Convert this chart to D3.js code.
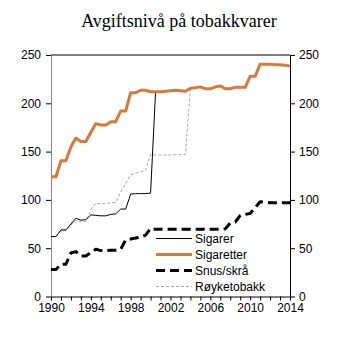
<!DOCTYPE html>
<html><head><meta charset="utf-8">
<script src="https://cdn.jsdelivr.net/npm/d3@7"></script>
<style>body{margin:0;background:#fff}svg{display:block}</style>
</head><body>
<svg id="c" width="341" height="341"></svg>
<script>
const periods = [1990,1990.5,1991,1991.5,1992,1992.5,1993,1993.5,1994,1994.5,1995,1995.5,1996,1996.5,1997,1997.5,1998,1998.5,1999,1999.5,2000,2000.5,2001,2001.5,2002,2002.5,2003,2003.5,2004,2004.5,2005,2005.5,2006,2006.5,2007,2007.5,2008,2008.5,2009,2009.5,2010,2010.5,2011,2011.5,2012,2012.5,2013,2013.5,2014];
const sigarer = [62,62,69,69,75,81,79,79.5,84.5,84,83.5,83.5,85,85.5,90.5,90.5,106,106.5,106.5,106.5,107,212,212,212.5,213,213.5,213,212.5,215.5,216,217,215,215,217,218,215,215,216.5,216.5,216.5,228,228,240.5,240.5,240.5,240,240,239.5,238.5];
const sigaretter = [124,124,140.5,140.5,155,164,160.5,160.5,170,179,177.5,177.5,181,181,192,192,211,211,213.5,213.5,212,212,212,212.5,213,213.5,213,212.5,215.5,216,217,215,215,217,218,215,215,216.5,216.5,216.5,228,228,240.5,240.5,240.5,240,240,239.5,238.5];
const snus = [28,28,33.5,33.5,45,46.5,42,42,45.5,49,47.5,47.5,48,48,49,58.5,59.5,60.5,61.5,63.5,70.5,69.5,69.5,69.5,69.5,69.5,69.5,69.5,69.5,69.5,69.5,69.5,69.5,69.5,69.5,70,76,77,84,85,86,92,98,97.5,97,97,97,97,97];
const royketobakk = [62,62,68,68,74,79,77.5,77.5,90,96.5,96,96,97,97.5,108,117,126,127.5,129,130.5,147,146.5,146.5,146.5,146.5,147,147,147,215.5,216,217,215,215,217,218,215,215,216.5,216.5,216.5,228,228,240.5,240.5,240.5,240,240,239.5,238.5];
const seriesNames = ["Sigarer","Sigaretter","Snus/skrå","Røyketobakk"];
const yTicks = [0,50,100,150,200,250];
const xTickYears = [1990,1991,1992,1993,1994,1995,1996,1997,1998,1999,2000,2001,2002,2003,2004,2005,2006,2007,2008,2009,2010,2011,2012,2013,2014];
const xTickLabels = [1990,1994,1998,2002,2006,2010,2014];
const title = "Avgiftsnivå på tobakkvarer";

const svg = d3.select("#c");
const L = 51, R = 290, T = 55, B = 296.5;
const x = d3.scaleLinear().domain([1990, 2014]).range([L, R]);
const y = d3.scaleLinear().domain([0, 250]).range([B, T]);
const FONT = "'Liberation Sans', Arial, sans-serif";

svg.append("text").attr("x", 179).attr("y", 27).attr("text-anchor", "middle")
  .attr("font-family", "'Liberation Serif', 'Times New Roman', serif").attr("font-size", 18)
  .attr("fill", "#000").text(title);

// top border
svg.append("line").attr("x1", L).attr("x2", R).attr("y1", T).attr("y2", T)
  .attr("stroke", "#000").attr("stroke-width", 1);

const gl = svg.append("g").attr("transform", `translate(${L},0)`)
  .call(d3.axisLeft(y).tickValues(yTicks).tickSize(5).tickPadding(5).tickSizeOuter(0));
gl.select(".domain").attr("stroke", "#888");
const gr = svg.append("g").attr("transform", `translate(${R},0)`)
  .call(d3.axisRight(y).tickValues(yTicks).tickSize(5).tickPadding(4).tickSizeOuter(0));
const gb = svg.append("g").attr("transform", `translate(0,${B})`)
  .call(d3.axisBottom(x).tickValues(xTickYears).tickSize(4).tickPadding(3).tickSizeOuter(0)
    .tickFormat(d => xTickLabels.includes(d) ? String(d) : ""));
[gl, gr, gb].forEach(g => {
  g.selectAll("text").attr("font-family", FONT).attr("font-size", 12).attr("fill", "#000");
  g.selectAll(".tick line").attr("stroke", "#000");
});
gr.select(".domain").attr("stroke", "#000");
gb.select(".domain").attr("stroke", "#000");

const line = d3.line().x((d, i) => x(periods[i])).y(d => y(d));
const styles = [
  {data: royketobakk, color: "#a6a6a6", width: 1, dash: "3,2", name: seriesNames[3]},
  {data: sigarer, color: "#000", width: 1, dash: null, name: seriesNames[0]},
  {data: snus, color: "#000", width: 3, dash: "9,5", name: seriesNames[2]},
  {data: sigaretter, color: "#D7793A", width: 3, dash: null, name: seriesNames[1]}
];
styles.forEach(s => {
  svg.append("path").datum(s.data).attr("d", line).attr("fill", "none")
    .attr("stroke", s.color).attr("stroke-width", s.width)
    .attr("stroke-dasharray", s.dash).attr("stroke-linejoin", "round");
});

// legend
const legendOrder = [1, 3, 2, 0];
legendOrder.forEach((si, k) => {
  const s = styles[si];
  const ly = 238.5 + k * 16;
  svg.append("line").attr("x1", 156).attr("x2", 192).attr("y1", ly).attr("y2", ly)
    .attr("stroke", s.color).attr("stroke-width", s.width).attr("stroke-dasharray", s.dash);
  svg.append("text").attr("x", 195).attr("y", ly + 4.3).attr("font-family", FONT)
    .attr("font-size", 12).attr("fill", "#000").text(s.name);
});
</script>
</body></html>
